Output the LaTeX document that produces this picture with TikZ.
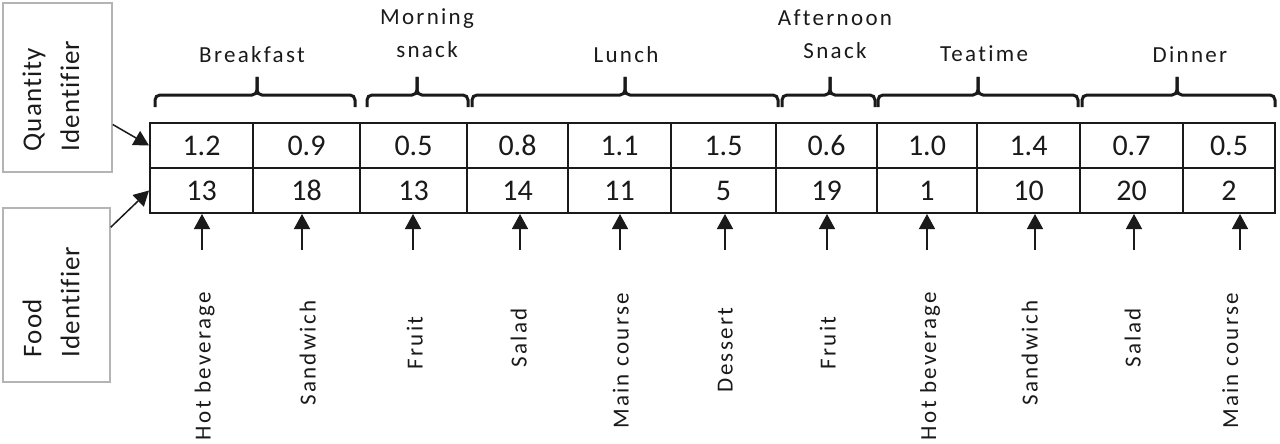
\documentclass[tikz,border=0pt]{standalone}
\usepackage{fontspec}
\setmainfont[Ligatures=NoCommon]{Carlito}
\newfontfamily\lblfont[LetterSpace=10,Ligatures=NoCommon]{Carlito}
\newfontfamily\idfont[LetterSpace=4,Ligatures=NoCommon]{Carlito}
\usetikzlibrary{arrows.meta}
\definecolor{ink}{HTML}{1A1A1A}
\definecolor{boxgray}{HTML}{B4B4B4}

\begin{document}
\begin{tikzpicture}[x=1pt,y=-1pt]

\tikzstyle cell=[draw=ink, line width=2pt, inner sep=0pt, minimum height=45pt, text=ink, font=\fontsize{30}{36}\selectfont]
\tikzstyle meal=[align=center, anchor=base, inner sep=0pt, text=ink, font=\lblfont\fontsize{23}{33}\selectfont]
\tikzstyle food=[rotate=90, inner sep=0pt, text height=16pt, text depth=6pt, text=ink, font=\lblfont\fontsize{23}{28}\selectfont]
\tikzstyle ibox=[draw=boxgray, line width=1.5pt, inner sep=0pt]
\tikzstyle ident=[rotate=90, align=left, inner sep=0pt, text=ink, font=\idfont\fontsize{27}{38}\selectfont]
\tikzstyle brace=[draw=ink, line width=3pt, rounded corners=5pt]
\tikzstyle arr=[draw=ink, line width=1.5pt, -{Triangle[length=15pt,width=16pt]}]

\useasboundingbox (0,0) rectangle (1280,444);

\node (qbox) [ibox, minimum width=109pt, minimum height=169pt] at (57.5,87.5) {};
\node (qtext) [ident] at (51,96) {Quantity\\Identifier};
\node (fbox) [ibox, minimum width=107pt, minimum height=174pt] at (56.5,295) {};
\node (ftext) [ident] at (51,302) {Food\\Identifier};

\foreach \i/\l/\r/\q/\f in {1/150/253/1.2/13, 2/253/360/0.9/18, 3/360/467/0.5/13, 4/467/568/0.8/14, 5/568/671/1.1/11, 6/671/776/1.5/5, 7/776/877/0.6/19, 8/877/977/1.0/1, 9/977/1080/1.4/10, 10/1080/1183/0.7/20, 11/1183/1275/0.5/2}
{
\pgfmathsetmacro\w{\r-\l}
\node (q\i) [cell, minimum width=\w pt] at ({(\l+\r)/2},145.5) {\q};
\node (f\i) [cell, minimum width=\w pt] at ({(\l+\r)/2},190.5) {\f};
}

\node (breakfast) [meal] at (252,62.5) {Breakfast};
\node (msnack) [meal] at (427,58) {Morning\\snack};
\node (lunch) [meal] at (626,63) {Lunch};
\node (asnack) [meal] at (835,59) {Afternoon\\Snack};
\node (teatime) [meal] at (984,62) {Teatime};
\node (dinner) [meal] at (1190,63) {Dinner};

\foreach \a/\m/\b in {155/257/355, 367/417/468, 472/625/778, 782/830/875, 878/978/1078, 1082/1177/1275}
{
\draw [brace] (\a,107) -- (\a,95) -- (\m,95) -- (\m,77);
\draw [brace] (\b,107) -- (\b,95) -- (\m,95) -- (\m,77);
}

\foreach \i/\ax/\ly/\t in {1/202/365/Hot beverage, 2/302/352/Sandwich, 3/413/342/Fruit, 4/520/337/Salad, 5/620/360/Main course, 6/725/349/Dessert, 7/827/342/Fruit, 8/927/365/Hot beverage, 9/1035/352/Sandwich, 10/1134/337/Salad, 11/1240/360/Main course}
{
\coordinate (t\i) at (\ax,250);
\draw [arr] (t\i) -- (t\i |- f\i.south);
\path (f\i.south) ++(4,{\ly-213}) node (l\i) [food] {\t};
}

\draw [arr] ([yshift=-37pt]qbox.east) -- (q1.west);
\draw [arr] ([yshift=-20pt]fbox.north east) -- (f1.west);

\end{tikzpicture}
\end{document}
